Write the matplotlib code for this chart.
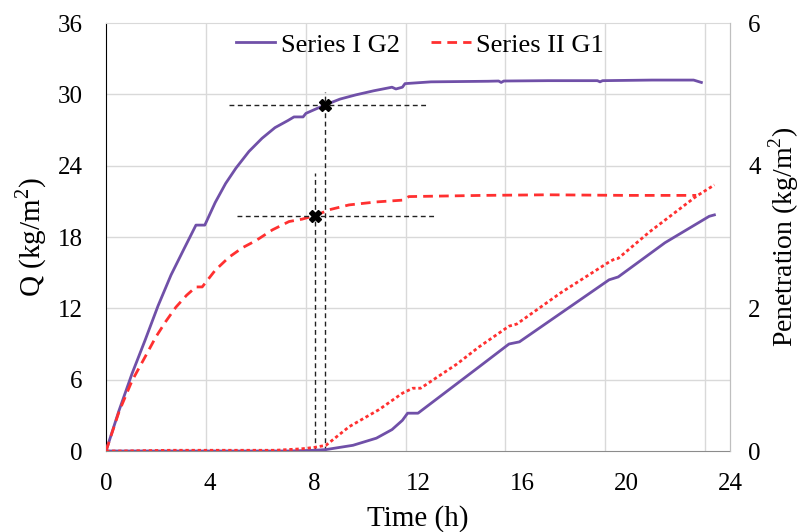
import matplotlib
matplotlib.use("Agg")
import matplotlib.pyplot as plt

plt.rcParams["font.family"] = ["Liberation Serif", "DejaVu Serif"]
plt.rcParams["mathtext.fontset"] = "custom"
plt.rcParams["mathtext.rm"] = "Liberation Serif"

PURPLE = "#7050A8"
RED = "#FF3030"

# Q curves (left axis), time in h
t_q1 = [0, 0.5, 1.0, 1.5, 2.0, 2.5, 3.0, 3.46, 3.8, 4.2, 4.6, 5.0, 5.5, 6.0, 6.5,
        7.0, 7.23, 7.58, 7.69, 8.0, 8.42, 9.0, 9.6, 10.3, 11.0, 11.15, 11.4, 11.5,
        12.5, 14.7, 15.1, 15.2, 15.3, 17.0, 18.9, 19.0, 19.1, 21.0, 22.6, 22.9]
q1 = [0, 3.4, 6.5, 9.3, 12.2, 14.8, 17.0, 19.0, 19.0, 20.9, 22.5, 23.8, 25.2, 26.3,
      27.2, 27.8, 28.1, 28.1, 28.4, 28.7, 29.1, 29.6, 29.95, 30.3, 30.6, 30.45,
      30.6, 30.9, 31.05, 31.1, 31.12, 31.0, 31.12, 31.15, 31.15, 31.05, 31.15,
      31.2, 31.2, 31.0]

t_q2 = [0, 0.5, 1.0, 1.5, 1.92, 2.3, 2.69, 3.1, 3.46, 3.7, 4.2, 4.73, 5.25, 5.77,
        6.4, 7.04, 7.54, 7.7, 8.04, 8.6, 9.35, 10.4, 11.4, 11.65, 14.5, 17.0,
        20.0, 22.7]
q2 = [0, 3.3, 5.9, 7.9, 9.6, 10.9, 12.1, 13.1, 13.8, 13.8, 15.2, 16.3, 17.1, 17.7,
      18.6, 19.3, 19.5, 19.6, 19.8, 20.3, 20.7, 20.95, 21.1, 21.4, 21.5, 21.55,
      21.5, 21.5]

# Penetration curves (right axis)
t_p1 = [0, 7.0, 8.0, 8.46, 9.5, 10.4, 11.0, 11.4, 11.6, 12.0, 14.35, 15.5, 15.9,
        19.35, 19.7, 21.5, 23.2, 23.4]
p1 = [0, 0, 0.01, 0.02, 0.08, 0.18, 0.3, 0.43, 0.53, 0.53, 1.18, 1.50, 1.53,
      2.40, 2.44, 2.92, 3.29, 3.31]

t_p2 = [0, 0.5, 2.5, 6.5, 7.5, 8.0, 8.46, 9.35, 10.5, 11.4, 11.8, 12.1, 13.5,
        14.35, 15.5, 15.8, 17.5, 19.35, 19.6, 19.7, 20.9, 22.7, 23.4]
p2 = [0, 0, 0.01, 0.01, 0.03, 0.05, 0.08, 0.34, 0.58, 0.81, 0.88, 0.88, 1.22,
      1.46, 1.75, 1.78, 2.22, 2.65, 2.70, 2.70, 3.07, 3.57, 3.73]

# crosshair markers (time, Q)
mark_t = [8.42, 8.04]
mark_q = [29.1, 19.8]
hline_span = [(4.73, 12.4), (5.04, 12.7)]
vline_top = [30.2, 23.4]

# secondary horizontal scale used for the vertical gridlines (0-25, step 4)
sec_x_max = 25
sec_x_ticks = [4, 8, 12, 16, 20, 24]

fig = plt.figure(figsize=(8.04, 5.32), dpi=100)
ax = fig.add_axes([106 / 804, 1 - 451 / 532, 624 / 804, 428 / 532])
ax2 = ax.twinx()

ax.set_xlim(0, 24)
ax.set_ylim(0, 36)
ax2.set_ylim(0, 6)

# grid
for y in [6, 12, 18, 24, 30]:
    ax.axhline(y, color="#d9d9d9", lw=1, zorder=0)
for s in sec_x_ticks:
    ax.axvline(s * 24 / sec_x_max, color="#d9d9d9", lw=1, zorder=0)

ax.plot(t_q1, q1, color=PURPLE, lw=2.0, label="Series I G2", zorder=3)
ax.plot(t_q2, q2, color=RED, lw=2.0, dashes=(3.5, 2.2), label="Series II G1", zorder=3)
ax2.plot(t_p1, p1, color=PURPLE, lw=2.0, zorder=3)
ax2.plot(t_p2, p2, color=RED, lw=2.0, dashes=(1.2, 1.0), zorder=3)

for mt, mq, (h0, h1), vt in zip(mark_t, mark_q, hline_span, vline_top):
    ax.plot([h0, h1], [mq, mq], color="#222222", lw=1.0, dashes=(3.5, 2.5), zorder=4)
    ax.plot([mt, mt], [0, vt], color="#222222", lw=1.0, dashes=(3.5, 2.5), zorder=4)
ax.plot(mark_t, mark_q, ls="none", marker="X", ms=9, color="black", zorder=5)

ax.set_xticks([0, 4, 8, 12, 16, 20, 24])
ax.set_yticks([0, 6, 12, 18, 24, 30, 36])
ax2.set_yticks([0, 2, 4, 6])
ax.tick_params(axis="y", length=0, pad=17, labelsize=18)
ax.tick_params(axis="x", length=0, pad=16, labelsize=18)
ax2.tick_params(axis="y", length=0, pad=13, labelsize=18)

ax.spines["left"].set_color("black")
ax.spines["bottom"].set_color("#8c8c8c")
ax.spines["top"].set_color("#d9d9d9")
ax.spines["right"].set_color("#bfbfbf")
ax2.spines["left"].set_visible(False)
ax2.spines["bottom"].set_visible(False)
ax2.spines["top"].set_visible(False)
ax2.spines["right"].set_color("#bfbfbf")

ax.set_xlabel("Time (h)", fontsize=21, labelpad=7)
ax.set_ylabel("Q (kg/m$^2$)", fontsize=21, labelpad=6)
ax2.set_ylabel("Penetration (kg/m$^2$)", fontsize=20, labelpad=4)

ax.legend(loc="center", bbox_to_anchor=(0.503, 0.949), ncol=2, frameon=False,
          fontsize=19, handlelength=1.5, handletextpad=0.2, columnspacing=1.2,
          borderaxespad=0)

fig.savefig("out.png", dpi=100)
